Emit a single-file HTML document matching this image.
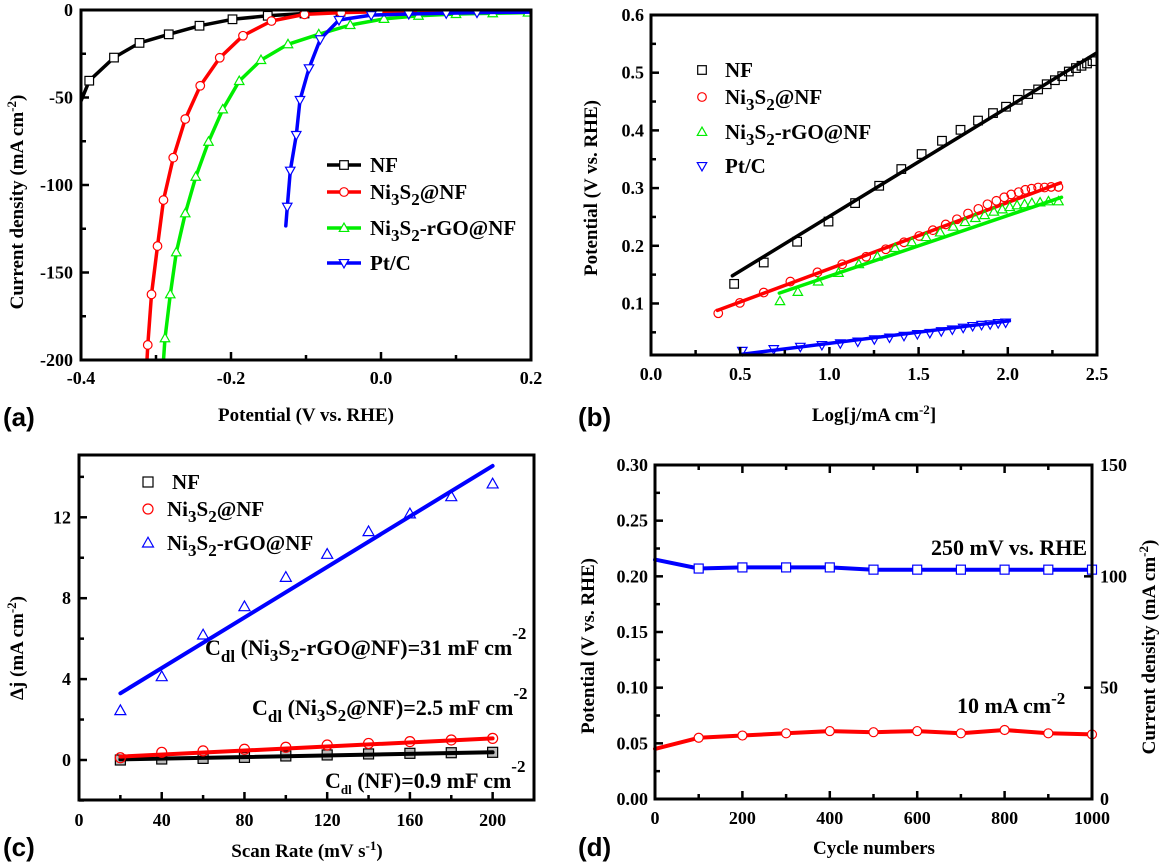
<!DOCTYPE html>
<html><head><meta charset="utf-8"><style>
html,body{margin:0;padding:0;background:#fff}
svg{display:block}
text{font-family:"Liberation Serif",serif;font-weight:bold;fill:#000}
.lab{font-family:"Liberation Sans",sans-serif;font-size:26px}
.tk{font-size:18px}
.ti{font-size:19px}
.lg{font-size:21px}
.an{font-size:22px}
</style></head><body>
<svg id="fig" width="1162" height="863" viewBox="0 0 1162 863" xmlns="http://www.w3.org/2000/svg">
<g id="gA"></g>
<g id="gB"></g>
<g id="gC"></g>
<g id="gD"></g>

<text class="lab" x="3" y="426">(a)</text>
<text class="lab" x="578" y="426">(b)</text>
<text class="lab" x="3" y="856">(c)</text>
<text class="lab" x="578" y="856">(d)</text>

<!-- axis titles -->
<text class="ti" x="306" y="421" text-anchor="middle">Potential (V vs. RHE)</text>
<text class="ti" transform="translate(23,202) rotate(-90)" text-anchor="middle">Current density (mA cm<tspan dy="-7" font-size="13">-2</tspan><tspan dy="7">)</tspan></text>
<text class="ti" x="874" y="421" text-anchor="middle">Log[j/mA cm<tspan dy="-7" font-size="13">-2</tspan><tspan dy="7">]</tspan></text>
<text class="ti" transform="translate(597,188) rotate(-90)" text-anchor="middle">Potential (V vs. RHE)</text>
<text class="ti" x="307" y="857" text-anchor="middle">Scan Rate (mV s<tspan dy="-7" font-size="13">-1</tspan><tspan dy="7">)</tspan></text>
<text class="ti" transform="translate(23,648) rotate(-90)" text-anchor="middle">Δj (mA cm<tspan dy="-7" font-size="13">-2</tspan><tspan dy="7">)</tspan></text>
<text class="ti" x="874" y="854" text-anchor="middle">Cycle numbers</text>
<text class="ti" transform="translate(594,646) rotate(-90)" text-anchor="middle">Potential (V vs. RHE)</text>
<text class="ti" transform="translate(1155,647) rotate(-90)" text-anchor="middle">Current density (mA cm<tspan dy="-7" font-size="13">-2</tspan><tspan dy="7">)</tspan></text>

<!-- legend a -->
<g>
<g id="legA"></g>
<text class="lg" x="370" y="172">NF</text>
<text class="lg" x="370" y="199">Ni<tspan dy="6" font-size="17">3</tspan><tspan dy="-6">S</tspan><tspan dy="6" font-size="17">2</tspan><tspan dy="-6">@NF</tspan></text>
<text class="lg" x="370" y="235">Ni<tspan dy="6" font-size="17">3</tspan><tspan dy="-6">S</tspan><tspan dy="6" font-size="17">2</tspan><tspan dy="-6">-rGO@NF</tspan></text>
<text class="lg" x="370" y="270">Pt/C</text>
</g>
<!-- legend b -->
<g>
<g id="legB"></g>
<text class="lg" x="725" y="77">NF</text>
<text class="lg" x="725" y="104">Ni<tspan dy="6" font-size="17">3</tspan><tspan dy="-6">S</tspan><tspan dy="6" font-size="17">2</tspan><tspan dy="-6">@NF</tspan></text>
<text class="lg" x="725" y="139">Ni<tspan dy="6" font-size="17">3</tspan><tspan dy="-6">S</tspan><tspan dy="6" font-size="17">2</tspan><tspan dy="-6">-rGO@NF</tspan></text>
<text class="lg" x="725" y="173">Pt/C</text>
</g>
<!-- legend c -->
<g>
<g id="legC"></g>
<text class="lg" x="172" y="489">NF</text>
<text class="lg" x="167" y="516">Ni<tspan dy="6" font-size="17">3</tspan><tspan dy="-6">S</tspan><tspan dy="6" font-size="17">2</tspan><tspan dy="-6">@NF</tspan></text>
<text class="lg" x="167" y="550">Ni<tspan dy="6" font-size="17">3</tspan><tspan dy="-6">S</tspan><tspan dy="6" font-size="17">2</tspan><tspan dy="-6">-rGO@NF</tspan></text>
</g>
<!-- annotations c -->
<text class="an" x="205" y="655">C<tspan dy="7" font-size="17">dl</tspan><tspan dy="-7"> (Ni</tspan><tspan dy="6" font-size="17">3</tspan><tspan dy="-6">S</tspan><tspan dy="6" font-size="17">2</tspan><tspan dy="-6">-rGO@NF)=31 mF cm</tspan><tspan dy="-16" font-size="17">-2</tspan></text>
<text class="an" x="252" y="715">C<tspan dy="7" font-size="17">dl</tspan><tspan dy="-7"> (Ni</tspan><tspan dy="6" font-size="17">3</tspan><tspan dy="-6">S</tspan><tspan dy="6" font-size="17">2</tspan><tspan dy="-6">@NF)=2.5 mF cm</tspan><tspan dy="-16" font-size="17">-2</tspan></text>
<text class="an" x="325" y="788">C<tspan dy="6" font-size="13">dl</tspan><tspan dy="-6"> (NF)=0.9 mF cm</tspan><tspan dy="-16" font-size="17">-2</tspan></text>
<!-- annotations d -->
<text class="an" x="931" y="555">250 mV vs. RHE</text>
<text class="an" x="957" y="713">10 mA cm<tspan dy="-9" font-size="17">-2</tspan></text>
</svg>
<script>
// ---------- Panel A data ----------
const aNFx = [-0.4,-0.389,-0.356,-0.322,-0.283,-0.242,-0.198,-0.151,-0.102,-0.054,0.0,0.2];
const aNFy = [-52,-40.4,-27.2,-18.8,-13.9,-9,-5.3,-3.3,-2,-1,-0.5,-0.3];
const aNix = [-0.312,-0.311,-0.306,-0.298,-0.290,-0.277,-0.261,-0.241,-0.215,-0.184,-0.146,-0.102,-0.053,-0.003,0.2];
const aNiy = [-200,-191.4,-162.5,-134.9,-108.6,-84.4,-62.3,-43.3,-27.3,-14.7,-6.3,-2.5,-1.5,-1,-0.5];
const aGOx = [-0.290,-0.288,-0.281,-0.273,-0.261,-0.247,-0.230,-0.211,-0.189,-0.160,-0.124,-0.083,-0.041,0.004,0.050,0.100,0.149,0.196,0.2];
const aGOy = [-200,-187.6,-162.5,-138.5,-116.2,-95.3,-75.3,-56.8,-40.6,-28.6,-19.6,-13.9,-8.6,-5.1,-3.3,-2.3,-1.9,-1.5,-1.5];
const aPtx = [-0.127,-0.125,-0.121,-0.113,-0.108,-0.096,-0.081,-0.056,-0.013,0.037,0.087,0.128,0.2];
const aPty = [-123.4,-112.4,-91.8,-71.4,-51.4,-33.3,-16.7,-5.7,-2.9,-2.3,-1.9,-1.5,-1.2];
const aXticks = [-0.4,-0.2,0.0,0.2];
const aXlabels = ["-0.4","-0.2","0.0","0.2"];
const aYticks = [0,-50,-100,-150,-200];
const aYlabels = ["0","-50","-100","-150","-200"];

// ---------- Panel B data ----------
const bNFx = [0.466,0.632,0.819,0.995,1.144,1.279,1.403,1.517,1.631,1.735,1.833,1.917,1.990,2.056,2.114,2.170,2.218,2.264,2.305,2.342,2.382,2.413,2.444,2.475];
const bNFy = [0.134,0.171,0.207,0.242,0.274,0.304,0.333,0.359,0.382,0.401,0.417,0.430,0.441,0.453,0.463,0.471,0.480,0.487,0.494,0.502,0.508,0.512,0.516,0.520];
const bNFfit = [[0.456,0.148],[2.496,0.534]];
const bNix = [0.377,0.498,0.632,0.781,0.933,1.072,1.206,1.316,1.418,1.503,1.580,1.652,1.715,1.777,1.835,1.886,1.936,1.980,2.019,2.061,2.098,2.133,2.170,2.206,2.243,2.284];
const bNiy = [0.083,0.101,0.119,0.138,0.154,0.168,0.181,0.194,0.206,0.217,0.227,0.237,0.246,0.256,0.264,0.272,0.278,0.284,0.289,0.293,0.297,0.299,0.301,0.301,0.302,0.302];
const bNifit = [[0.373,0.088],[2.295,0.309]];
const bGOx = [0.723,0.823,0.937,1.051,1.165,1.269,1.368,1.462,1.542,1.621,1.694,1.760,1.818,1.870,1.922,1.969,2.011,2.052,2.094,2.135,2.181,2.228,2.284];
const bGOy = [0.104,0.120,0.138,0.153,0.168,0.181,0.196,0.206,0.215,0.223,0.233,0.241,0.248,0.253,0.259,0.263,0.267,0.270,0.272,0.274,0.275,0.277,0.277];
const bGOfit = [[0.719,0.118],[2.301,0.284]];
const bPtx = [0.512,0.688,0.837,0.958,1.061,1.159,1.252,1.337,1.418,1.493,1.563,1.627,1.689,1.750,1.803,1.853,1.901,1.946,1.988];
const bPty = [0.018,0.021,0.025,0.028,0.031,0.034,0.038,0.041,0.044,0.047,0.049,0.052,0.055,0.058,0.061,0.063,0.064,0.066,0.067];
const bPtfit = [[0.512,0.012],[2.009,0.070]];
const bXticks = [0,0.5,1.0,1.5,2.0,2.5];
const bXlabels = ["0.0","0.5","1.0","1.5","2.0","2.5"];
const bYticks = [0.1,0.2,0.3,0.4,0.5,0.6];
const bYlabels = ["0.1","0.2","0.3","0.4","0.5","0.6"];

// ---------- Panel C data ----------
const cRates = [20,40,60,80,100,120,140,160,180,200];
const cGO = [2.44,4.12,6.18,7.58,9.03,10.17,11.29,12.17,13.02,13.65];
const cNi = [0.11,0.38,0.45,0.53,0.63,0.74,0.82,0.91,0.99,1.07];
const cNF = [0.0,0.05,0.08,0.13,0.2,0.25,0.3,0.33,0.36,0.38];
const cGOfit = [[20,3.30],[200,14.54]];
const cNifit = [[20,0.17],[200,1.07]];
const cNFfit = [[20,0.03],[200,0.38]];
const cXticks = [0,40,80,120,160,200];
const cXlabels = ["0","40","80","120","160","200"];
const cYticks = [0,4,8,12];
const cYlabels = ["0","4","8","12"];

// ---------- Panel D data ----------
const dCycles = [0,100,200,300,400,500,600,700,800,900,1000];
const dBlue = [0.215,0.207,0.208,0.208,0.208,0.206,0.206,0.206,0.206,0.206,0.206];
const dRed = [0.045,0.055,0.057,0.059,0.061,0.060,0.061,0.059,0.062,0.059,0.058];
const dXticks = [0,200,400,600,800,1000];
const dXlabels = ["0","200","400","600","800","1000"];
const dYticks = [0,0.05,0.10,0.15,0.20,0.25,0.30];
const dYlabels = ["0.00","0.05","0.10","0.15","0.20","0.25","0.30"];
const dRticks = [0,50,100,150];
const dRlabels = ["0","50","100","150"];

const NS = "http://www.w3.org/2000/svg";
function el(parent, tag, attrs, name) {
  const e = document.createElementNS(NS, tag);
  for (const k in attrs) e.setAttribute(k, attrs[k]);
  
  
  parent.appendChild(e);
  return e;
}
function scale(d0, d1, p0, p1) { return v => p0 + (v - d0) / (d1 - d0) * (p1 - p0); }

function frame(g, P, name) {
  el(g, 'rect', {x:P.x0, y:P.y0, width:P.x1-P.x0, height:P.y1-P.y0, fill:'none', stroke:'#000', 'stroke-width':3}, name + '-frame');
}
function xTicks(g, P, sx, ticks, labels, minor, ly, name, top) {
  ticks.forEach((t, i) => {
    const x = sx(t);
    el(g, 'line', {x1:x, x2:x, y1:P.y1, y2:P.y1-8, stroke:'#000', 'stroke-width':2.5}, name + '-x-tick');
    if (top) el(g, 'line', {x1:x, x2:x, y1:P.y0, y2:P.y0+8, stroke:'#000', 'stroke-width':2.5}, name + '-x-tick-top');
    const t2 = el(g, 'text', {x:x, y:ly, 'text-anchor':'middle', class:'tk'}, name + '-x-tick-label');
    t2.textContent = labels[i];
  });
  minor.forEach(t => {
    const x = sx(t);
    el(g, 'line', {x1:x, x2:x, y1:P.y1, y2:P.y1-5, stroke:'#000', 'stroke-width':2.5}, name + '-x-minor-tick');
    if (top) el(g, 'line', {x1:x, x2:x, y1:P.y0, y2:P.y0+5, stroke:'#000', 'stroke-width':2.5}, name + '-x-minor-tick-top');
  });
}
function yTicks(g, P, sy, ticks, labels, minor, lx, name, side) {
  const xa = side === 'r' ? P.x1 : P.x0;
  const dir = side === 'r' ? -1 : 1;
  ticks.forEach((t, i) => {
    const y = sy(t);
    el(g, 'line', {x1:xa, x2:xa+dir*8, y1:y, y2:y, stroke:'#000', 'stroke-width':2.5}, name + '-y-tick');
    const t2 = el(g, 'text', {x:lx, y:y+6, 'text-anchor': side === 'r' ? 'start' : 'end', class:'tk'}, name + '-y-tick-label');
    t2.textContent = labels[i];
  });
  minor.forEach(t => {
    const y = sy(t);
    el(g, 'line', {x1:xa, x2:xa+dir*5, y1:y, y2:y, stroke:'#000', 'stroke-width':2.5}, name + '-y-minor-tick');
  });
}
function line(g, xs, ys, sx, sy, color, w, name) {
  const pts = xs.map((x, i) => sx(x).toFixed(1) + ',' + sy(ys[i]).toFixed(1)).join(' ');
  return el(g, 'polyline', {points:pts, fill:'none', stroke:color, 'stroke-width':w, 'stroke-linejoin':'round', 'stroke-linecap':'round'}, name);
}
function marker(g, type, x, y, r, color, fill, name) {
  const common = {fill:fill, stroke:color, 'stroke-width':1.2};
  if (type === 'sq') return el(g, 'rect', Object.assign({x:x-r, y:y-r, width:2*r, height:2*r}, common), name);
  if (type === 'ci') return el(g, 'circle', Object.assign({cx:x, cy:y, r:r}, common), name);
  if (type === 'tu') return el(g, 'polygon', Object.assign({points:`${x},${y-r*1.15} ${x-r*1.1},${y+r*0.8} ${x+r*1.1},${y+r*0.8}`}, common), name);
  if (type === 'td') return el(g, 'polygon', Object.assign({points:`${x},${y+r*1.15} ${x-r*1.1},${y-r*0.8} ${x+r*1.1},${y-r*0.8}`}, common), name);
}

// ===== Panel A =====
(function(){
  const g = document.getElementById('gA');
  const P = {x0:81, x1:531, y0:10, y1:360};
  const sx = scale(-0.4, 0.2, P.x0, P.x1), sy = scale(0, -200, P.y0, P.y1);
  const clip = el(g, 'clipPath', {id:'clipA'}, 'clip-a');
  el(clip, 'rect', {x:P.x0, y:P.y0, width:P.x1-P.x0, height:P.y1-P.y0}, 'clip-a-rect');
  const data = el(g, 'g', {'clip-path':'url(#clipA)'}, 'plot-area-a');
  const series = [
    [aNFx, aNFy, '#000', 'sq', 'nf'],
    [aNix, aNiy, '#ff0000', 'ci', 'ni3s2'],
    [aGOx, aGOy, '#00ee00', 'tu', 'ni3s2-rgo'],
    [aPtx, aPty, '#0000ff', 'td', 'ptc'],
  ];
  series.forEach(s => {
    line(data, s[0], s[1], sx, sy, s[2], 3.5, 'curve-a-' + s[4]);
    s[0].forEach((x, i) => {
      if (i === 0 || i === s[0].length - 1) return;
      marker(data, s[3], sx(x), sy(s[1][i]), 4.3, s[2], '#fff', 'marker-a-' + s[4]);
    });
  });
  frame(g, P, 'panel-a');
  xTicks(g, P, sx, aXticks, aXlabels, [-0.3,-0.1,0.1], 384, 'panel-a', false);
  yTicks(g, P, sy, aYticks, aYlabels, [-25,-75,-125,-175], 73, 'panel-a', 'l');
  const leg = document.getElementById('legA');
  const ly = [165, 192, 228, 263];
  series.forEach((s, i) => {
    el(leg, 'line', {x1:327, x2:361, y1:ly[i], y2:ly[i], stroke:s[2], 'stroke-width':3.5}, 'legend-line-' + s[4]);
    marker(leg, s[3], 344, ly[i], 4.3, s[2], '#fff', 'legend-marker-' + s[4]);
  });
})();

// ===== Panel B =====
(function(){
  const g = document.getElementById('gB');
  const P = {x0:651, x1:1097, y0:15, y1:355};
  const sx = scale(0, 2.5, P.x0, P.x1), sy = scale(0.6, 0.0107, P.y0, P.y1);
  const series = [
    [bNFx, bNFy, bNFfit, '#000', 'sq', 'nf'],
    [bNix, bNiy, bNifit, '#ff0000', 'ci', 'ni3s2'],
    [bGOx, bGOy, bGOfit, '#00ee00', 'tu', 'ni3s2-rgo'],
    [bPtx, bPty, bPtfit, '#0000ff', 'td', 'ptc'],
  ];
  series.forEach(s => {
    s[0].forEach((x, i) => marker(g, s[4], sx(x), sy(s[1][i]), 4.3, s[3], 'none', 'marker-b-' + s[5]));
    line(g, s[2].map(p => p[0]), s[2].map(p => p[1]), sx, sy, s[3], 3.5, 'fit-line-b-' + s[5]);
  });
  frame(g, P, 'panel-b');
  xTicks(g, P, sx, bXticks, bXlabels, [0.25,0.75,1.25,1.75,2.25], 380, 'panel-b', false);
  yTicks(g, P, sy, bYticks, bYlabels, [0.05,0.15,0.25,0.35,0.45,0.55], 644, 'panel-b', 'l');
  const leg = document.getElementById('legB');
  const ly = [70, 97, 132, 166];
  series.forEach((s, i) => marker(leg, s[4], 702, ly[i], 4.3, s[3], 'none', 'legend-b-marker-' + s[5]));
})();

// ===== Panel C =====
(function(){
  const g = document.getElementById('gC');
  const P = {x0:79, x1:534, y0:455, y1:800};
  const sx = scale(0, 220, P.x0, P.x1);
  const syc = scale(0, 12, 760, 517.3);
  const series = [
    [cNF, cNFfit, '#000', 'sq', 'nf', '#bbb'],
    [cNi, cNifit, '#ff0000', 'ci', 'ni3s2', 'none'],
    [cGO, cGOfit, '#0000ff', 'tu', 'ni3s2-rgo', 'none'],
  ];
  series.forEach(s => {
    s[0].forEach((v, i) => marker(g, s[3], sx(cRates[i]), syc(v), 5, s[2], s[5], 'marker-c-' + s[4]));
    line(g, s[1].map(p => p[0]), s[1].map(p => p[1]), sx, syc, s[2], 4, 'fit-line-c-' + s[4]);
  });
  frame(g, P, 'panel-c');
  xTicks(g, P, sx, cXticks, cXlabels, [20,60,100,140,180], 826, 'panel-c', false);
  yTicks(g, P, syc, cYticks, cYlabels, [-2,2,6,10,14], 71, 'panel-c', 'l');
  const leg = document.getElementById('legC');
  const ly = [482, 509, 543];
  series.forEach((s, i) => marker(leg, s[3], 148, ly[i], 5, s[2], 'none', 'legend-c-marker-' + s[4]));
})();

// ===== Panel D =====
(function(){
  const g = document.getElementById('gD');
  const P = {x0:655, x1:1092, y0:465, y1:799};
  const sx = scale(0, 1000, P.x0, P.x1), sy = scale(0, 0.3, P.y1, P.y0);
  const sr = scale(0, 150, P.y1, P.y0);
  const series = [[dBlue, '#0000ff', 'sq', 'potential-250mv'], [dRed, '#ff0000', 'ci', 'potential-10ma']];
  series.forEach(s => {
    line(g, dCycles, s[0], sx, sy, s[1], 4, 'line-d-' + s[3]);
    dCycles.forEach((c, i) => { if (i > 0) marker(g, s[2], sx(c), sy(s[0][i]), 4.5, s[1], '#fff', 'marker-d-' + s[3]); });
  });
  frame(g, P, 'panel-d');
  xTicks(g, P, sx, dXticks, dXlabels, [100,300,500,700,900], 824, 'panel-d', true);
  yTicks(g, P, sy, dYticks, dYlabels, [0.025,0.075,0.125,0.175,0.225,0.275], 648, 'panel-d', 'l');
  yTicks(g, P, sr, dRticks, dRlabels, [], 1100, 'panel-d-right', 'r');
})();
</script>
</body></html>
